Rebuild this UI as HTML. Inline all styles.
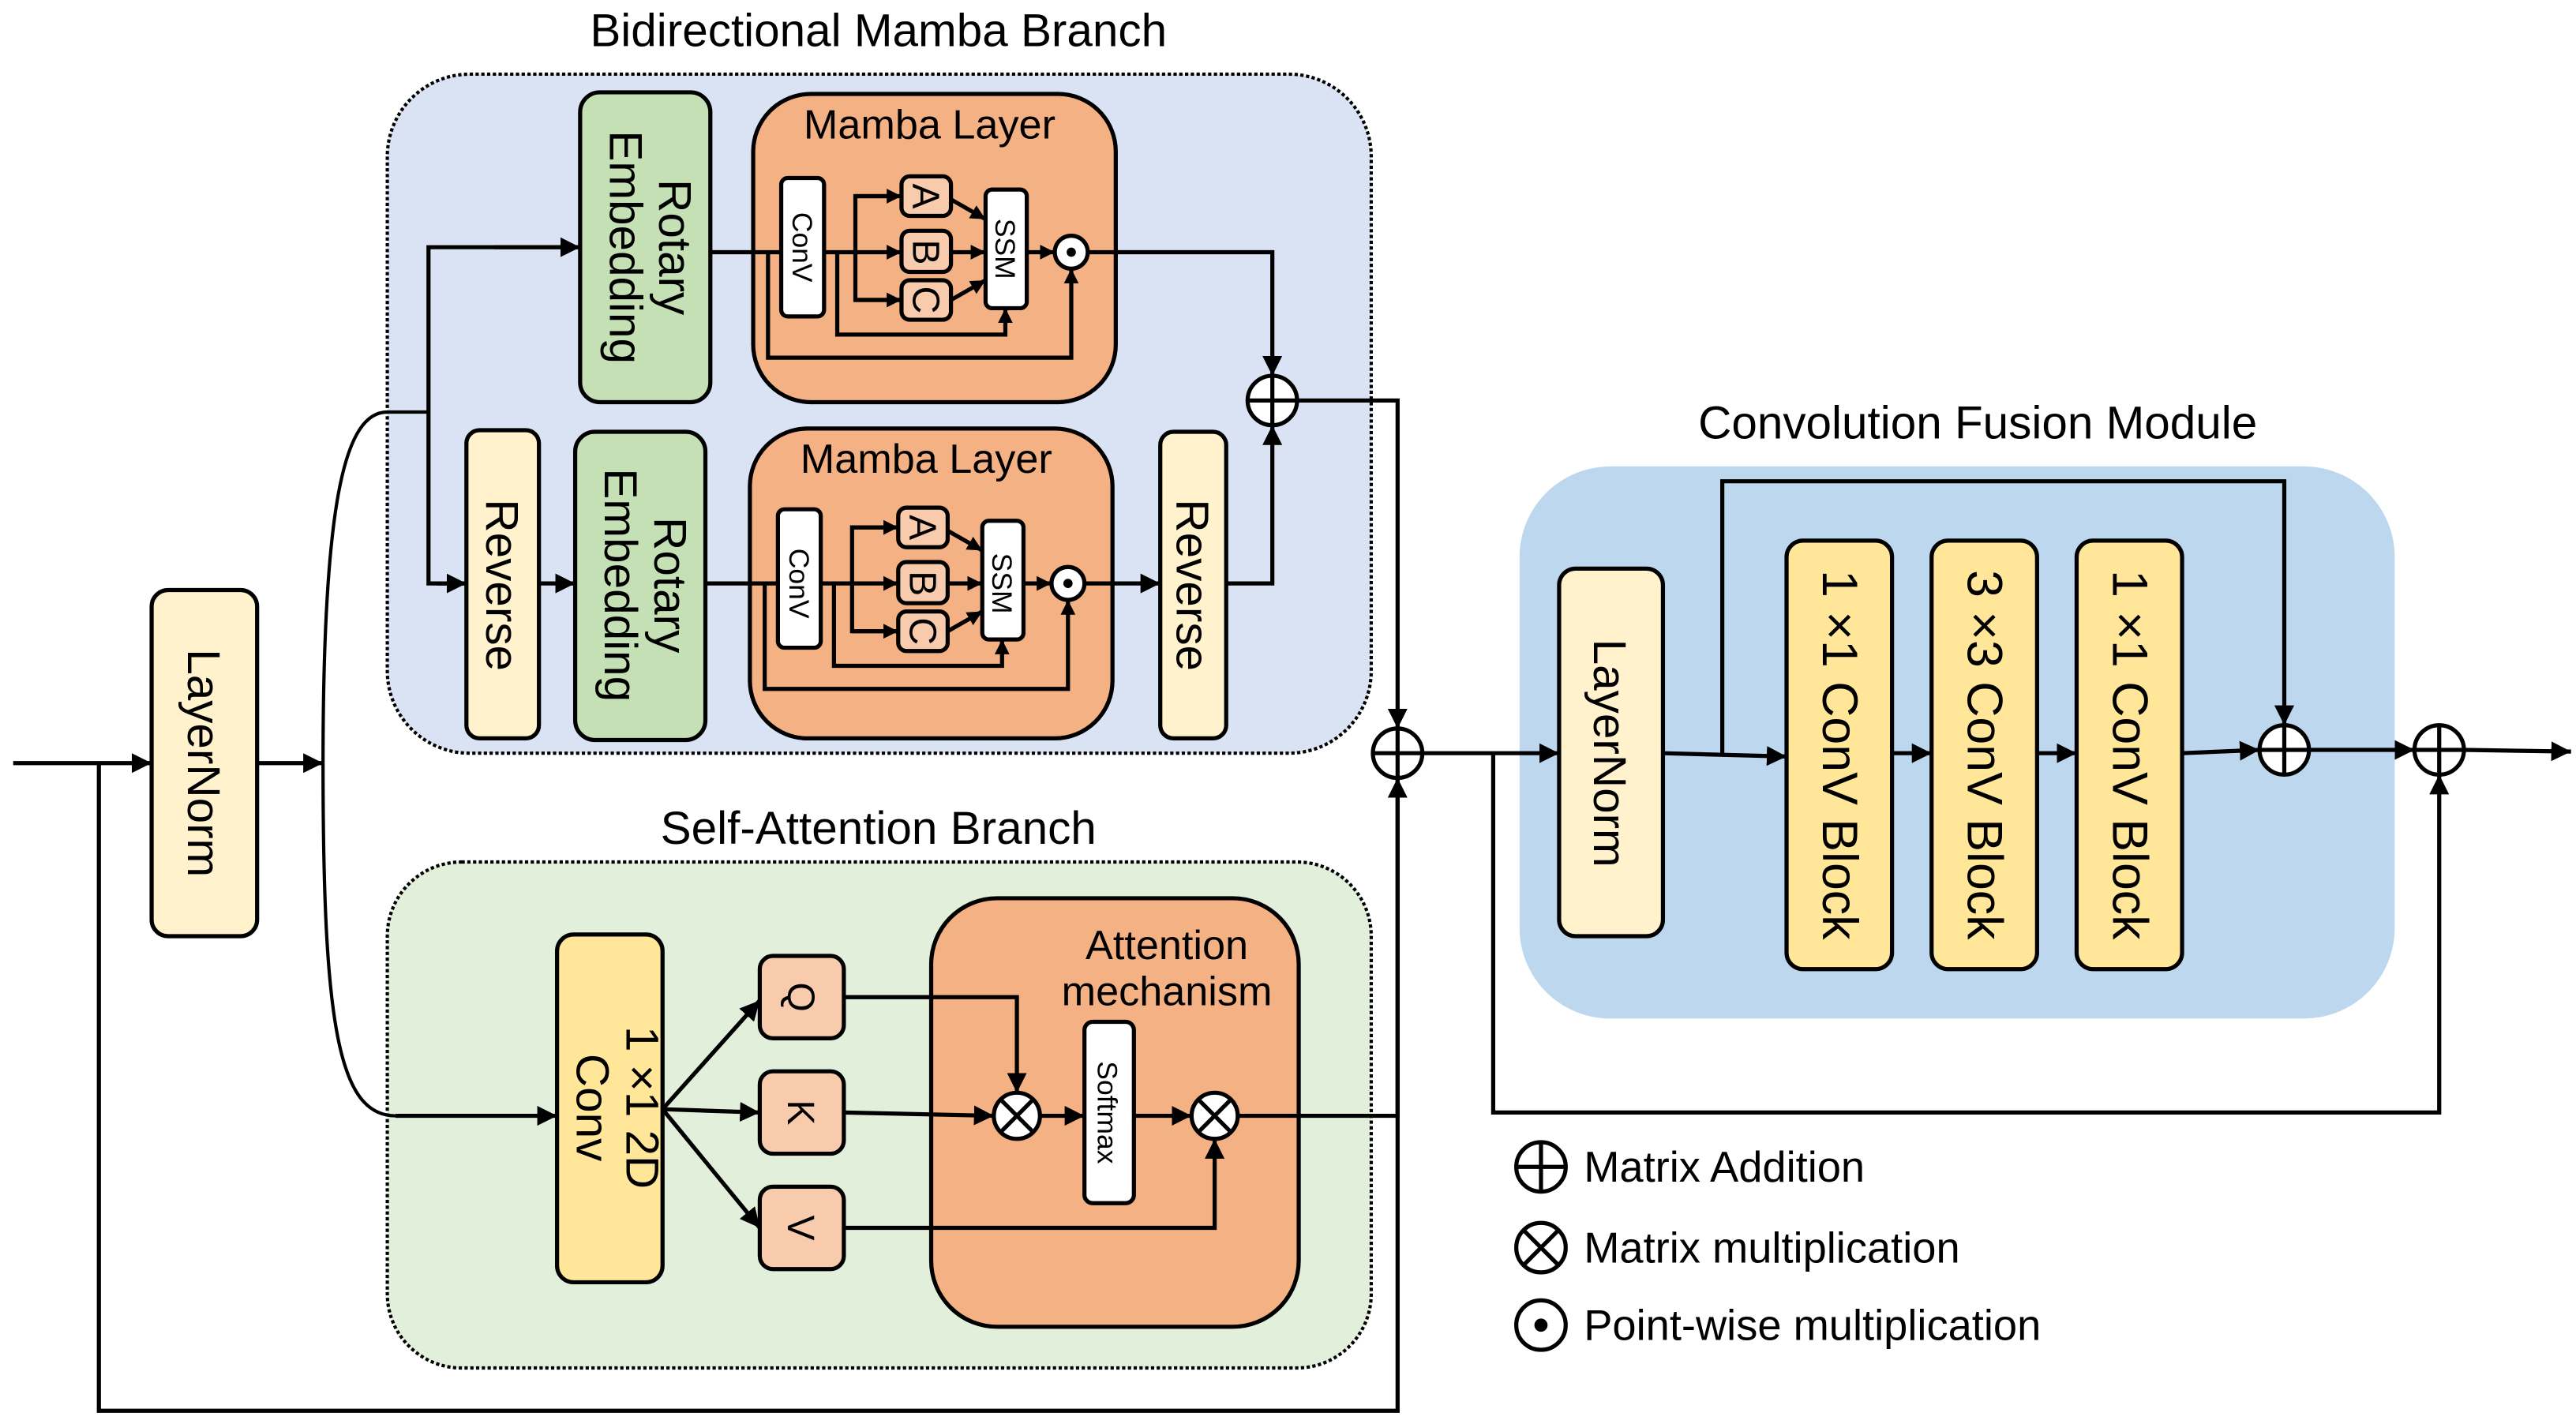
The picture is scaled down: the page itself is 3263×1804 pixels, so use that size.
<!DOCTYPE html>
<html><head><meta charset="utf-8"><style>html,body{margin:0;padding:0;background:#fff}svg{display:block}</style></head>
<body>
<svg width="3263" height="1804" viewBox="0 0 1563 864" preserveAspectRatio="none" xmlns="http://www.w3.org/2000/svg" font-family="'Liberation Sans', 'DejaVu Sans', sans-serif">
<defs>
<marker id="s" viewBox="0 0 10 10" refX="10" refY="5" markerWidth="9" markerHeight="9" orient="auto" markerUnits="userSpaceOnUse"><path d="M0,0 L10,5 L0,10 z" fill="#000"/></marker>
<marker id="b" viewBox="0 0 10 10" refX="10" refY="5" markerWidth="12" markerHeight="12" orient="auto" markerUnits="userSpaceOnUse"><path d="M0,0 L10,5 L0,10 z" fill="#000"/></marker>
</defs>
<g stroke="#000" stroke-width="2.5" fill="none">
<rect x="235" y="45" width="597" height="412" rx="50" fill="#dae3f3" stroke-dasharray="2 1.5" stroke-width="2"/>
<rect x="235" y="523" width="597" height="307" rx="45" fill="#e2efda" stroke-dasharray="2 1.5" stroke-width="2"/>
<rect x="922" y="283" width="531" height="335" rx="55" fill="#bdd7ee" stroke="none"/>
<rect x="352" y="56" width="79" height="188" rx="12" fill="#c5e0b4"/>
<rect x="457" y="57" width="220" height="187" rx="35" fill="#f4b183"/>
<rect x="283" y="261" width="44" height="187" rx="8" fill="#fff2cc"/>
<rect x="349" y="262" width="79" height="187" rx="12" fill="#c5e0b4"/>
<rect x="455" y="260" width="220" height="188" rx="35" fill="#f4b183"/>
<rect x="704" y="262" width="40" height="186" rx="8" fill="#fff2cc"/>
<rect x="92" y="358" width="64" height="210" rx="10" fill="#fff2cc"/>
<rect x="338" y="567" width="64" height="211" rx="10" fill="#ffe699"/>
<rect x="565" y="545" width="223" height="260" rx="40" fill="#f4b183"/>
<rect x="461" y="580" width="51" height="50" rx="8" fill="#f8cbad"/>
<rect x="461" y="650" width="51" height="50" rx="8" fill="#f8cbad"/>
<rect x="461" y="720" width="51" height="50" rx="8" fill="#f8cbad"/>
<rect x="658" y="620" width="30" height="110" rx="5" fill="#fff"/>
<rect x="946" y="345" width="63" height="223" rx="10" fill="#fff2cc"/>
<rect x="1084" y="328" width="64" height="260" rx="10" fill="#ffe699"/>
<rect x="1172" y="328" width="64" height="260" rx="10" fill="#ffe699"/>
<rect x="1260" y="328" width="64" height="260" rx="10" fill="#ffe699"/>

<g id="m1">
<line x1="431" y1="153" x2="474" y2="153"/>
<rect x="474" y="108" width="26" height="84" rx="4" fill="#fff"/>
<line x1="500" y1="153" x2="547" y2="153" marker-end="url(#s)"/>
<polyline points="541,119 519,119 519,182 547,182" />
<line x1="519" y1="119" x2="547" y2="119" marker-end="url(#s)"/>
<line x1="519" y1="182" x2="547" y2="182" marker-end="url(#s)"/>
<rect x="547" y="107" width="30" height="24" rx="5" fill="#f8cbad"/>
<rect x="547" y="140" width="30" height="25" rx="5" fill="#f8cbad"/>
<rect x="547" y="170" width="30" height="24" rx="5" fill="#f8cbad"/>
<line x1="577" y1="121" x2="598" y2="133" marker-end="url(#s)"/>
<line x1="577" y1="153" x2="598" y2="153" marker-end="url(#s)"/>
<line x1="577" y1="182" x2="598" y2="170" marker-end="url(#s)"/>
<rect x="598" y="115" width="25" height="72" rx="4" fill="#fff"/>
<line x1="623" y1="153" x2="640" y2="153" marker-end="url(#s)"/>
<polyline points="508,153 508,203 610,203 610,187" marker-end="url(#s)"/>
<polyline points="466,153 466,217 650,217 650,163" marker-end="url(#s)"/>
<circle cx="650" cy="153" r="10" fill="#fff"/>
<circle cx="650" cy="153" r="2.8" fill="#000" stroke="none"/>
</g>
<use href="#m1" transform="translate(-2,201)"/>

<polyline points="660,153 772,153 772,228" marker-end="url(#b)"/>
<line x1="658" y1="354" x2="704" y2="354" marker-end="url(#b)"/>
<polyline points="744,354 772,354 772,258" marker-end="url(#b)"/>
<circle cx="772" cy="243" r="15" fill="#fff"/>
<line x1="757" y1="243" x2="787" y2="243"/><line x1="772" y1="228" x2="772" y2="258"/>
<polyline points="787,243 848,243 848,442" marker-end="url(#b)"/>

<line x1="8" y1="463" x2="92" y2="463" marker-end="url(#b)"/>
<line x1="156" y1="463" x2="196" y2="463" marker-end="url(#b)"/>
<polyline points="60,463 60,856 848,856 848,472" marker-end="url(#b)"/>
<path d="M196,463 C196,300 210,250 235,250 L260,250" stroke-width="2"/>
<path d="M196,463 C196,620 205,677 240,677" stroke-width="2"/>
<polyline points="352,150 260,150 260,354 283,354" />
<line x1="300" y1="150" x2="352" y2="150" marker-end="url(#b)"/>
<line x1="265" y1="354" x2="283" y2="354" marker-end="url(#b)"/>
<line x1="327" y1="354" x2="349" y2="354" marker-end="url(#b)"/>
<line x1="240" y1="677" x2="338" y2="677" marker-end="url(#b)"/>

<line x1="402" y1="673" x2="461" y2="607" marker-end="url(#b)"/>
<line x1="402" y1="673" x2="461" y2="675" marker-end="url(#b)"/>
<line x1="402" y1="673" x2="461" y2="745" marker-end="url(#b)"/>
<polyline points="512,605 617,605 617,663" marker-end="url(#b)"/>
<line x1="512" y1="675" x2="603" y2="677" marker-end="url(#b)"/>
<line x1="631" y1="677" x2="658" y2="677" marker-end="url(#b)"/>
<line x1="688" y1="677" x2="723" y2="677" marker-end="url(#b)"/>
<polyline points="512,745 737,745 737,691" marker-end="url(#b)"/>
<polyline points="751,677 848,677 848,472"/>
<circle cx="617" cy="677" r="14" fill="#fff"/>
<line x1="607" y1="667" x2="627" y2="687"/><line x1="627" y1="667" x2="607" y2="687"/>
<circle cx="737" cy="677" r="14" fill="#fff"/>
<line x1="727" y1="667" x2="747" y2="687"/><line x1="747" y1="667" x2="727" y2="687"/>

<circle cx="848" cy="457" r="15" fill="#fff"/>
<line x1="833" y1="457" x2="863" y2="457"/><line x1="848" y1="442" x2="848" y2="472"/>

<line x1="863" y1="457" x2="946" y2="457" marker-end="url(#b)"/>
<polyline points="906,457 906,675 1480,675 1480,470" marker-end="url(#b)"/>
<line x1="1009" y1="457" x2="1084" y2="459" marker-end="url(#b)"/>
<polyline points="1045,458 1045,292 1386,292 1386,440" marker-end="url(#b)"/>
<line x1="1148" y1="457" x2="1172" y2="457" marker-end="url(#b)"/>
<line x1="1236" y1="457" x2="1260" y2="457" marker-end="url(#b)"/>
<line x1="1324" y1="457" x2="1371" y2="455" marker-end="url(#b)"/>
<line x1="1401" y1="455" x2="1465" y2="455" marker-end="url(#b)"/>
<line x1="1495" y1="455" x2="1560" y2="456" marker-end="url(#b)"/>
<circle cx="1386" cy="455" r="15" fill="#fff"/>
<line x1="1371" y1="455" x2="1401" y2="455"/><line x1="1386" y1="440" x2="1386" y2="470"/>
<circle cx="1480" cy="455" r="15" fill="#fff"/>
<line x1="1465" y1="455" x2="1495" y2="455"/><line x1="1480" y1="440" x2="1480" y2="470"/>

<circle cx="935" cy="708" r="15" fill="#fff"/>
<line x1="920" y1="708" x2="950" y2="708"/><line x1="935" y1="693" x2="935" y2="723"/>
<circle cx="935" cy="757" r="15" fill="#fff"/>
<line x1="925" y1="747" x2="945" y2="767"/><line x1="945" y1="747" x2="925" y2="767"/>
<circle cx="935" cy="804" r="15" fill="#fff"/>
<circle cx="935" cy="804" r="4" fill="#000" stroke="none"/>
</g>

<g fill="#000" font-size="28">
<text x="533" y="28" text-anchor="middle">Bidirectional Mamba Branch</text>
<text x="533" y="512" text-anchor="middle">Self-Attention Branch</text>
<text x="1200" y="266" text-anchor="middle">Convolution Fusion Module</text>
<text x="564" y="84" text-anchor="middle" font-size="25">Mamba Layer</text>
<text x="562" y="287" text-anchor="middle" font-size="25">Mamba Layer</text>
<text x="708" y="582" text-anchor="middle" font-size="25">Attention</text>
<text x="708" y="610" text-anchor="middle" font-size="25">mechanism</text>
<text x="961" y="717" font-size="26">Matrix Addition</text>
<text x="961" y="766" font-size="26">Matrix multiplication</text>
<text x="961" y="813" font-size="26">Point-wise multiplication</text>
</g>
<g fill="#000" font-size="28">
<text transform="translate(400,150) rotate(90)" text-anchor="middle">Rotary</text>
<text transform="translate(370,150) rotate(90)" text-anchor="middle">Embedding</text>
<text transform="translate(397,355) rotate(90)" text-anchor="middle">Rotary</text>
<text transform="translate(367,355) rotate(90)" text-anchor="middle">Embedding</text>
<text transform="translate(295,355) rotate(90)" text-anchor="middle">Reverse</text>
<text transform="translate(714,355) rotate(90)" text-anchor="middle">Reverse</text>
<text transform="translate(114,463) rotate(90)" text-anchor="middle">LayerNorm</text>
<text transform="translate(967,457) rotate(90)" text-anchor="middle">LayerNorm</text>
<text transform="translate(380,672) rotate(90)" text-anchor="middle">1 ×1 2D</text>
<text transform="translate(350,672) rotate(90)" text-anchor="middle">Conv</text>
<text transform="translate(1106,458) rotate(90)" text-anchor="middle" font-size="30">1 ×1  ConV Block</text>
<text transform="translate(1194,458) rotate(90)" text-anchor="middle" font-size="30">3 ×3  ConV Block</text>
<text transform="translate(1282,458) rotate(90)" text-anchor="middle" font-size="30">1 ×1  ConV Block</text>
<g font-size="17">
<text transform="translate(481,150) rotate(90)" text-anchor="middle">ConV</text>
<text transform="translate(479,354) rotate(90)" text-anchor="middle">ConV</text>
<text transform="translate(604,151) rotate(90)" text-anchor="middle">SSM</text>
<text transform="translate(602,354) rotate(90)" text-anchor="middle">SSM</text>
<text transform="translate(666,675) rotate(90)" text-anchor="middle">Softmax</text>
</g>
<g font-size="23" text-anchor="middle">
<text transform="translate(554,119) rotate(90)">A</text>
<text transform="translate(554,153) rotate(90)">B</text>
<text transform="translate(554,182) rotate(90)">C</text>
<text transform="translate(552,320) rotate(90)">A</text>
<text transform="translate(552,354) rotate(90)">B</text>
<text transform="translate(552,383) rotate(90)">C</text>
<text transform="translate(478,605) rotate(90)">Q</text>
<text transform="translate(478,675) rotate(90)">K</text>
<text transform="translate(478,745) rotate(90)">V</text>
</g>
</g>
</svg>
</body></html>
